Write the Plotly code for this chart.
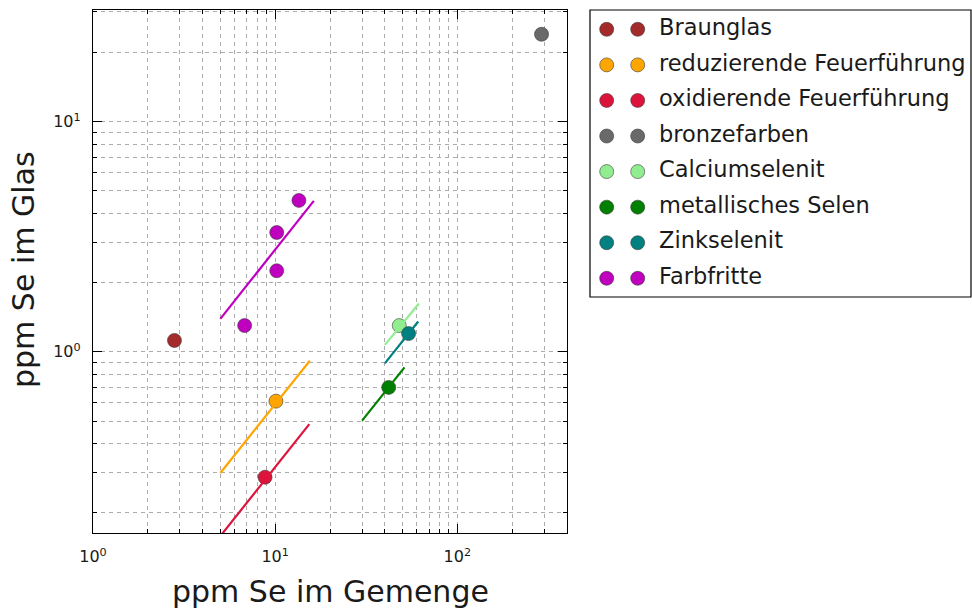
import math
import plotly.graph_objects as go

# Selenium content: batch (x) versus glass (y), ppm
categories = [
    "Braunglas",
    "reduzierende Feuerführung",
    "oxidierende Feuerführung",
    "bronzefarben",
    "Calciumselenit",
    "metallisches Selen",
    "Zinkselenit",
    "Farbfritte",
]
colors = ["#a52a2a", "#ffa500", "#dc143c", "#696969",
          "#90ee90", "#008000", "#008080", "#bf00bf"]

point_x = [[2.8], [10.1], [8.8], [290], [48], [42], [54], [6.8, 10.2, 10.2, 13.5]]
point_y = [[1.12], [0.61], [0.285], [24.0], [1.3], [0.70], [1.2], [1.3, 3.3, 2.25, 4.55]]

# proportional fit lines (None = no fit drawn)
fit_x = [None, [5, 15.5], [5, 15.4], None, [40, 61.6], [30, 51.3], [40, 61], [5, 16.3]]
fit_y = [None, [0.297, 0.914], [0.158, 0.485], None, [1.072, 1.621], [0.502, 0.855], [0.89, 1.354], [1.39, 4.53]]

x_range = [1, 400]
y_range = [0.163, 30.6]
x_ticks = [1, 10, 100]
x_tick_text = ["10<sup>0</sup>", "10<sup>1</sup>", "10<sup>2</sup>"]
y_ticks = [1, 10]
y_tick_text = ["10<sup>0</sup>", "10<sup>1</sup>"]

FONT = "DejaVu Sans"
TXT = "#1a1a1a"
W, H = 972, 609
ML, MR, MT, MB = 93, 0, 10, 76
PW, PH = W - ML - MR, H - MT - MB


def px_x(p):
    return (p - ML) / PW


def px_y(p):
    return (H - MB - p) / PH


fig = go.Figure()

for name, col, xs, ys, fx, fy in zip(categories, colors, point_x, point_y, fit_x, fit_y):
    fig.add_trace(go.Scatter(
        x=xs, y=ys, mode="markers", name=name, showlegend=False,
        marker=dict(size=14, color=col, line=dict(color="#3a3a3a", width=0.6)),
        xaxis="x", yaxis="y"))
    if fx is not None:
        fig.add_trace(go.Scatter(
            x=fx, y=fy, mode="lines", showlegend=False,
            line=dict(color=col, width=2.2), xaxis="x", yaxis="y"))

# hand-built legend with two markers per entry
rows = list(range(len(categories)))
for mx in (16.7, 47.7):
    fig.add_trace(go.Scatter(
        x=[mx] * len(categories), y=rows, mode="markers", showlegend=False,
        marker=dict(size=14, color=colors, line=dict(color="#3a3a3a", width=0.6)),
        xaxis="x2", yaxis="y2"))
fig.add_trace(go.Scatter(
    x=[69] * len(categories), y=rows, mode="text", text=categories,
    textposition="middle right", showlegend=False,
    textfont=dict(family=FONT, size=22.5, color=TXT),
    xaxis="x2", yaxis="y2"))

grid = dict(showgrid=True, gridcolor="#ababab", griddash="4px,4px", gridwidth=1)


def minor_vals(lo, hi):
    vals = []
    for d in range(math.floor(math.log10(lo)), math.ceil(math.log10(hi)) + 1):
        for m in range(2, 10):
            v = m * 10 ** d
            if lo <= v <= hi:
                vals.append(v)
    return vals


axis_common = dict(
    type="log", showline=True, linecolor="black", linewidth=1.3, mirror="allticks",
    ticks="inside", ticklen=9, tickwidth=1, tickcolor="black", zeroline=False,
    tickfont=dict(family=FONT, size=16, color=TXT), **grid)

fig.update_layout(
    width=W, height=H,
    margin=dict(l=ML, r=MR, t=MT, b=MB),
    paper_bgcolor="white", plot_bgcolor="white",
    font=dict(family=FONT, color=TXT),
    xaxis=dict(
        range=[math.log10(x_range[0]), math.log10(x_range[1])],
        domain=[0, px_x(567)], anchor="y",
        tickvals=x_ticks, ticktext=x_tick_text, ticklabelstandoff=9,
        minor=dict(tickvals=minor_vals(*x_range), ticks="inside", ticklen=4,
                   tickcolor="black", **grid),
        **axis_common),
    yaxis=dict(
        range=[math.log10(y_range[0]), math.log10(y_range[1])],
        domain=[0, 1], anchor="x",
        tickvals=y_ticks, ticktext=y_tick_text, ticklabelstandoff=8,
        minor=dict(tickvals=minor_vals(*y_range), ticks="inside", ticklen=4,
                   tickcolor="black", **grid),
        **axis_common),
    xaxis2=dict(domain=[px_x(590), 1], range=[0, 382], visible=False,
                anchor="y2", fixedrange=True),
    yaxis2=dict(domain=[px_y(297), 1], range=[7.526, -0.543], visible=False,
                anchor="x2", fixedrange=True),
    shapes=[dict(type="rect", xref="paper", yref="paper",
                 x0=px_x(590), x1=px_x(971), y0=px_y(297), y1=px_y(10),
                 line=dict(color="black", width=1.2), fillcolor="rgba(0,0,0,0)")],
    annotations=[
        dict(text="ppm Se im Gemenge", xref="paper", yref="paper",
             x=px_x(330), y=px_y(591), xanchor="center", yanchor="middle",
             showarrow=False, font=dict(family=FONT, size=30, color=TXT)),
        dict(text="ppm Se im Glas", xref="paper", yref="paper",
             x=px_x(23), y=px_y(270), xanchor="center", yanchor="middle",
             textangle=-90, showarrow=False,
             font=dict(family=FONT, size=30, color=TXT)),
    ],
)

fig.write_html("out.html")
